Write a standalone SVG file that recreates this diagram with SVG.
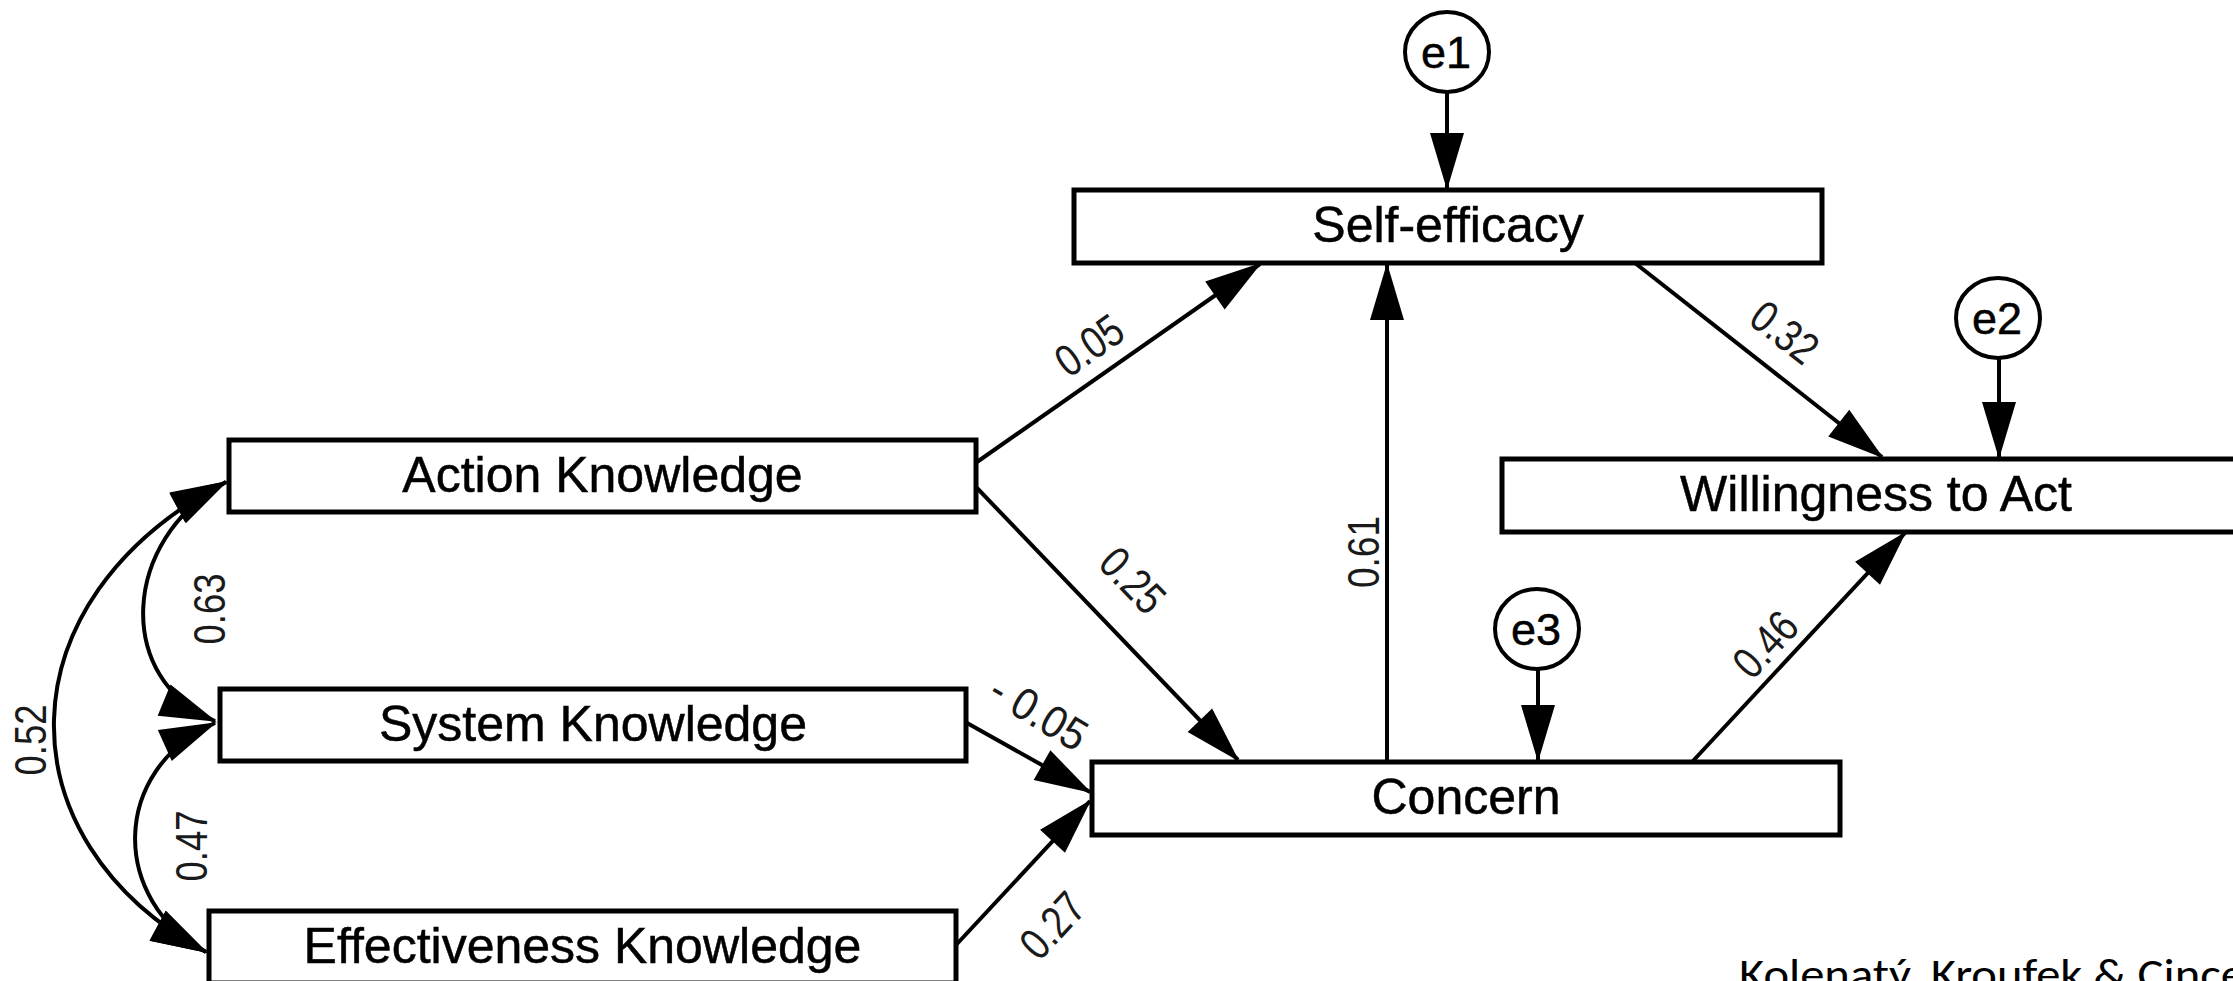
<svg xmlns="http://www.w3.org/2000/svg" width="2233" height="981" viewBox="0 0 2233 981">
<defs>
<style>
.box{fill:#fff;stroke:#000;stroke-width:5}
.err{fill:#fff;stroke:#000;stroke-width:4}
.con{fill:none;stroke:#000;stroke-width:4}
.arr{marker-end:url(#ah)}
.dbl{marker-start:url(#ah);marker-end:url(#ah)}
.nl{font-family:"Liberation Sans",Arial,sans-serif;font-size:50px;fill:#000;stroke:#000;stroke-width:0.5;text-anchor:middle}
.el{font-family:"Liberation Sans",Arial,sans-serif;font-size:45px;fill:#000;stroke:#000;stroke-width:0.5;text-anchor:middle}
.pl{font-family:"Liberation Sans Narrow","Liberation Sans",Arial,sans-serif;font-size:45px;fill:#1a1a1a;text-anchor:middle}
.cit{font-family:Carlito,Lato,"Open Sans",sans-serif;font-size:44px;fill:#000}
</style>
<marker id="ah" markerUnits="userSpaceOnUse" markerWidth="57" markerHeight="34" refX="55" refY="17" orient="auto-start-reverse" overflow="visible">
<path d="M0,0 L57,17 L0,34 z" fill="#000"/>
</marker>
</defs>
<rect x="0" y="0" width="2233" height="981" fill="#fff"/>

<g id="connectors">
<path class="con arr" d="M977,462 L1260,264"/>
<path class="con arr" d="M977,488 L1238,760"/>
<path class="con arr" d="M967,723 L1090,792"/>
<path class="con arr" d="M956,945 L1090,801"/>
<path class="con arr" d="M1387,762 L1387,265"/>
<path class="con arr" d="M1635,263 L1882,457"/>
<path class="con arr" d="M1692,762 L1905,533"/>
<path class="con arr" d="M1447,92 L1447,188"/>
<path class="con arr" d="M1999,358 L1999,457"/>
<path class="con arr" d="M1538,669 L1538,760"/>
<path class="con dbl" d="M226,482 C120,540 115,680 215,721"/>
<path class="con dbl" d="M226,482 C0,600 0,840 206,952"/>
<path class="con dbl" d="M215,723 C110,770 110,900 206,952"/>
</g>

<g id="labels">
<g transform="translate(209,609) rotate(-90)"><text class="pl" x="0" y="16" textLength="71" lengthAdjust="spacingAndGlyphs">0.63</text></g>
<g transform="translate(30,740) rotate(-90)"><text class="pl" x="0" y="16" textLength="71" lengthAdjust="spacingAndGlyphs">0.52</text></g>
<g transform="translate(191,846) rotate(-90)"><text class="pl" x="0" y="16" textLength="71" lengthAdjust="spacingAndGlyphs">0.47</text></g>
<g transform="translate(1363,552) rotate(-90)"><text class="pl" x="0" y="16" textLength="72" lengthAdjust="spacingAndGlyphs">0.61</text></g>
<g transform="translate(1089,345) rotate(-35)"><text class="pl" x="0" y="16" textLength="72" lengthAdjust="spacingAndGlyphs">0.05</text></g>
<g transform="translate(1133,580) rotate(46)"><text class="pl" x="0" y="16" textLength="72" lengthAdjust="spacingAndGlyphs">0.25</text></g>
<g transform="translate(1039,712) rotate(31)"><text class="pl" x="0" y="16" textLength="105" lengthAdjust="spacingAndGlyphs">- 0.05</text></g>
<g transform="translate(1052,925) rotate(-47)"><text class="pl" x="0" y="16" textLength="72" lengthAdjust="spacingAndGlyphs">0.27</text></g>
<g transform="translate(1785,332) rotate(38)"><text class="pl" x="0" y="16" textLength="72" lengthAdjust="spacingAndGlyphs">0.32</text></g>
<g transform="translate(1765,644) rotate(-47)"><text class="pl" x="0" y="16" textLength="72" lengthAdjust="spacingAndGlyphs">0.46</text></g>
</g>

<g id="action-knowledge"><rect class="box" x="229" y="440" width="747" height="72"/><text class="nl" x="602.5" y="491.5">Action Knowledge</text></g>
<g id="system-knowledge"><rect class="box" x="220" y="689" width="746" height="72"/><text class="nl" x="593" y="740.5">System Knowledge</text></g>
<g id="effectiveness-knowledge"><rect class="box" x="209" y="911" width="747" height="72"/><text class="nl" x="582.5" y="962.5">Effectiveness Knowledge</text></g>
<g id="self-efficacy"><rect class="box" x="1074" y="190" width="748" height="73"/><text class="nl" x="1448" y="242">Self-efficacy</text></g>
<g id="willingness-to-act"><rect class="box" x="1502" y="459" width="748" height="73"/><text class="nl" x="1876" y="511">Willingness to Act</text></g>
<g id="concern"><rect class="box" x="1092" y="762" width="748" height="73"/><text class="nl" x="1466" y="814">Concern</text></g>
<g id="e1"><ellipse class="err" cx="1447" cy="52" rx="42" ry="40"/><text class="el" x="1446" y="68">e1</text></g>
<g id="e2"><ellipse class="err" cx="1998" cy="318" rx="42" ry="40"/><text class="el" x="1997" y="334">e2</text></g>
<g id="e3"><ellipse class="err" cx="1537" cy="629" rx="42" ry="40"/><text class="el" x="1536" y="645">e3</text></g>

<text class="cit" x="1739" y="989" textLength="506" lengthAdjust="spacingAndGlyphs">Kolenatý, Kroufek &amp; Cince</text>
</svg>
